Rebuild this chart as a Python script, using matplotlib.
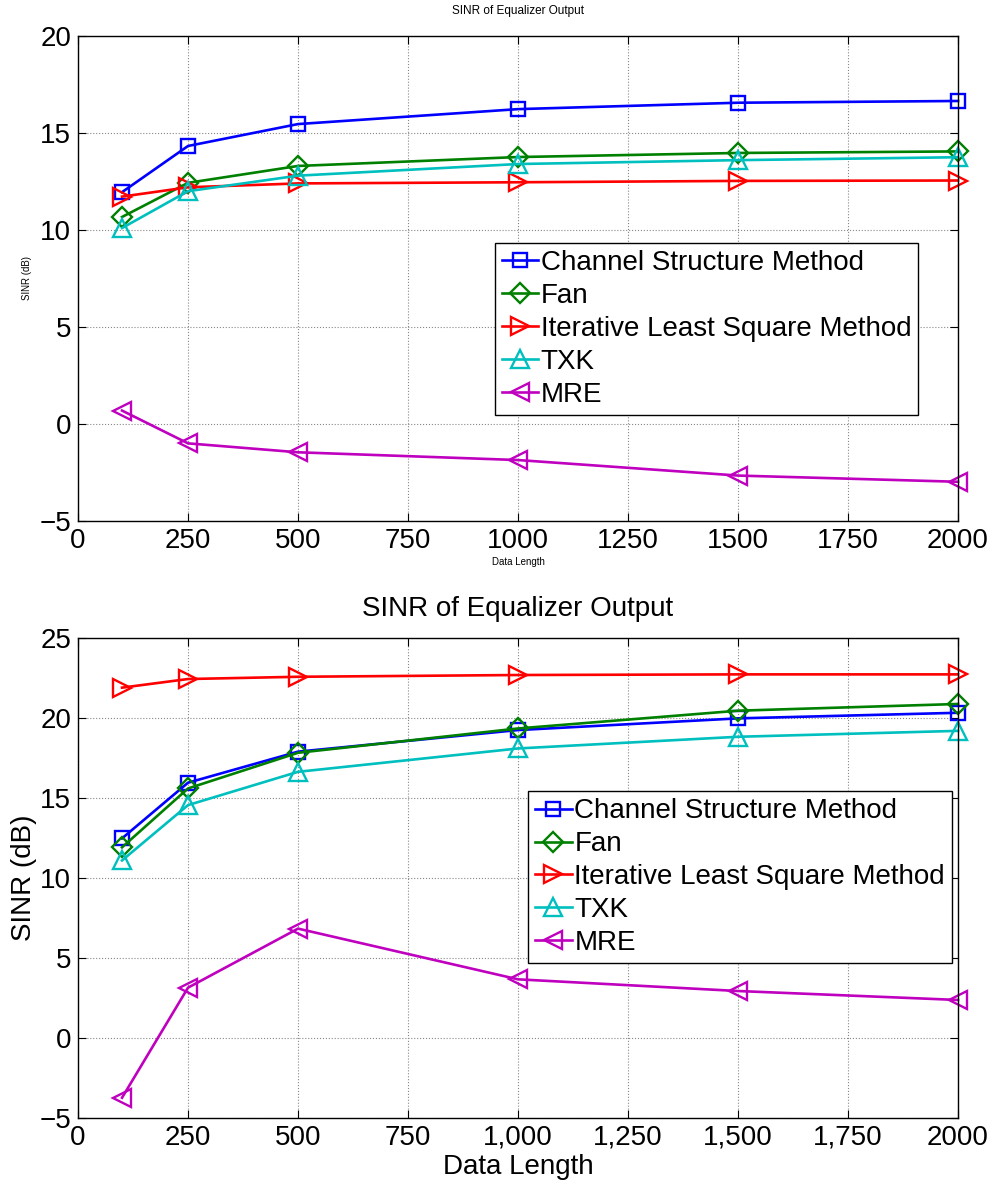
import matplotlib
matplotlib.use('Agg')
import matplotlib.pyplot as plt
from matplotlib.ticker import FixedLocator, FixedFormatter

plt.rcParams.update({'font.family': 'sans-serif',
                     'font.sans-serif': ['Liberation Sans', 'DejaVu Sans']})

# data lengths used in the simulation
data_len = [100, 250, 500, 1000, 1500, 2000]

labels = ['Channel Structure Method', 'Fan', 'Iterative Least Square Method', 'TXK', 'MRE']
colors = ['#0000FF', '#008000', '#FF0000', '#00BFBF', '#BF00BF']
markers = ['s', 'D', '>', '^', '<']

# upper panel: SINR (dB)
csm_a = [11.95, 14.33, 15.46, 16.23, 16.56, 16.65]
fan_a = [10.67, 12.43, 13.30, 13.76, 13.97, 14.05]
ils_a = [11.72, 12.20, 12.40, 12.46, 12.53, 12.55]
txk_a = [10.10, 12.00, 12.80, 13.40, 13.60, 13.75]
mre_a = [0.69, -1.00, -1.46, -1.86, -2.66, -2.98]

# lower panel: SINR (dB)
csm_b = [12.48, 15.96, 17.90, 19.25, 19.98, 20.33]
fan_b = [11.92, 15.60, 17.83, 19.35, 20.46, 20.88]
ils_b = [21.90, 22.44, 22.58, 22.69, 22.73, 22.73]
txk_b = [11.10, 14.56, 16.64, 18.10, 18.83, 19.20]
mre_b = [-3.73, 3.15, 6.84, 3.67, 2.94, 2.38]

xticks = [0, 250, 500, 750, 1000, 1250, 1500, 1750, 2000]
xlabels_a = ['0', '250', '500', '750', '1000', '1250', '1500', '1750', '2000']
xlabels_b = ['0', '250', '500', '750', '1,000', '1,250', '1,500', '1,750', '2000']

fig = plt.figure(figsize=(9.94, 11.84), dpi=100)
ax1 = fig.add_axes([0.0785, 0.560, 0.8853, 0.4096])
ax2 = fig.add_axes([0.0785, 0.0557, 0.8853, 0.4054])


def draw(ax, series, yticks, xlabels, leg_anchor):
    for ys, lab, c, m in zip(series, labels, colors, markers):
        ms = 10.5 if m in ('s', 'D') else 13.5
        ax.plot(data_len, ys, color=c, marker=m, ms=ms, mfc='none', mew=1.7,
                lw=1.9, label=lab, clip_on=False)
    ax.set_xlim(0, 2000)
    ax.set_ylim(yticks[0], yticks[-1])
    ax.xaxis.set_major_locator(FixedLocator(xticks))
    ax.xaxis.set_major_formatter(FixedFormatter(xlabels))
    ax.set_yticks(yticks)
    ax.tick_params(direction='in', length=6, width=0.8, labelsize=20,
                   top=True, right=True, pad=5)
    ax.grid(True, color='#888888', ls=':', lw=0.8)
    for s in ax.spines.values():
        s.set_linewidth(1.0)
    leg = ax.legend(loc='lower right', bbox_to_anchor=leg_anchor,
                    borderaxespad=0, fontsize=20, handlelength=1.3,
                    handletextpad=0.1, labelspacing=0.25, borderpad=0.25,
                    fancybox=False, framealpha=1, edgecolor='black')
    leg.get_frame().set_linewidth(1.0)


draw(ax1, [csm_a, fan_a, ils_a, txk_a, mre_a], [-5, 0, 5, 10, 15, 20],
     xlabels_a, (0.955, 0.219))
ax1.set_title('SINR of Equalizer Output', fontsize=8.5, pad=16)
ax1.set_ylabel('SINR (dB)', fontsize=7, labelpad=5)
ax1.set_xlabel('Data Length', fontsize=7, labelpad=2)

draw(ax2, [csm_b, fan_b, ils_b, txk_b, mre_b], [-5, 0, 5, 10, 15, 20, 25],
     xlabels_b, (0.993, 0.323))
ax2.set_title('SINR of Equalizer Output', fontsize=20, pad=16)
ax2.set_ylabel('SINR (dB)', fontsize=20, labelpad=2)
ax2.set_xlabel('Data Length', fontsize=20, labelpad=2)

fig.savefig('out.png', dpi=100)
